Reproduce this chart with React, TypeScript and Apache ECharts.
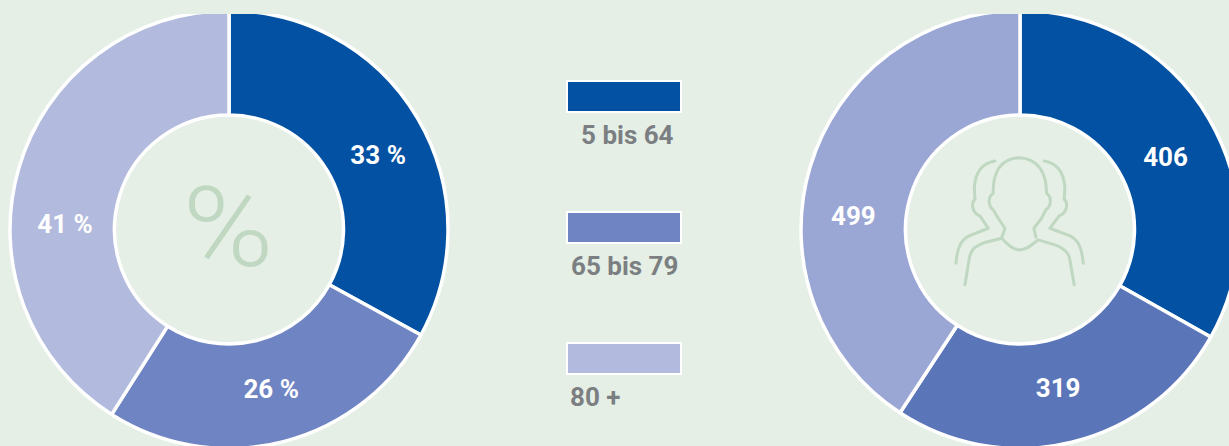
import React, { useEffect, useRef } from "react";
import * as echarts from "echarts";

const categories = ["5 bis 64", "65 bis 79", "80 +"];
const percentValues = [33, 26, 41];
const countValues = [406, 319, 499];
const leftColors = ["#0251a3", "#6f84c2", "#b2badd"];
const rightColors = ["#0251a3", "#5b75b9", "#9aa6d4"];
const leftOffsets = [[3, 12], [0, -5], [-1, 42]];
const rightOffsets = [[-1, 13], [-2, -6], [-4, 35]];
const legendTextX = [581, 571, 570];
const legendRectY = [81, 212, 343];

const FONT = "Roboto, sans-serif";
const BG = "#e5efe6";
const personPath =
  "M105 465 L118 385 C122 360 140 345 165 338 L215 325 L225 295 L205 265 L190 240 C175 228 172 202 190 190 C188 130 210 85 268 83 C325 85 350 130 350 190 C367 202 364 228 348 240 L335 265 L312 295 L318 322 M215 325 C235 345 250 360 268 360 C290 360 305 345 325 330 L375 345 C400 352 418 370 420 390 L433 465 " +
  "M195 93 C155 100 135 130 133 175 L135 208 C123 218 125 248 150 258 L175 295 L125 315 C95 325 82 350 78 400 " +
  "M343 93 C383 100 403 130 405 175 L403 208 C415 218 413 248 388 258 L360 295 L413 315 C443 325 456 350 460 400";
echarts.graphic.registerShape("personIcon", (echarts.graphic as any).extendPath(personPath, {}));

function donut(cx: number, values: number[], colors: string[], offsets: number[][], suffix: string) {
  return {
    type: "pie",
    center: [cx, 229.5],
    radius: [114.5, 219],
    startAngle: 90,
    clockwise: true,
    silent: true,
    itemStyle: { borderColor: "#ffffff", borderWidth: 3.5 },
    label: {
      show: true,
      position: "inside",
      color: "#ffffff",
      fontFamily: FONT,
      fontWeight: 700,
      fontSize: 26,
      formatter: (p: any) => p.value + suffix,
    },
    labelLine: { show: false },
    data: values.map((v, i) => ({
      name: categories[i],
      value: v,
      itemStyle: { color: colors[i] },
      label: { offset: offsets[i] },
    })),
  };
}

export default function App() {
  const ref = useRef<HTMLDivElement>(null);
  useEffect(() => {
    document.body.style.margin = "0";
    const chart = echarts.init(ref.current!, undefined, { renderer: "svg" });
    const legend: any[] = [];
    categories.forEach((c, i) => {
      legend.push({
        type: "rect",
        shape: { x: 567, y: legendRectY[i], width: 114, height: 31 },
        style: { fill: leftColors[i], stroke: "#ffffff", lineWidth: 2 },
      });
      legend.push({
        type: "text",
        x: legendTextX[i],
        y: legendRectY[i] + 41,
        style: { text: c, fill: "#7c7f82", font: `700 26px ${FONT}` },
      });
    });
    chart.setOption({
      animation: false,
      backgroundColor: BG,
      series: [
        donut(229, percentValues, leftColors, leftOffsets, " %"),
        donut(1020, countValues, rightColors, rightOffsets, ""),
      ],
      graphic: [
        ...legend,
        {
          type: "rect",
          z: 10,
          shape: { x: 0, y: 0, width: 1229, height: 14 },
          style: { fill: BG },
        },
        {
          type: "text",
          x: 228,
          y: 228,
          scaleX: 1.1,
          style: {
            text: "%",
            fill: "#c0d8c2",
            font: `300 112px ${FONT}`,
            textAlign: "center",
            textVerticalAlign: "middle",
          },
        },
        {
          type: "personIcon",
          x: 930,
          y: 130,
          scaleX: 1 / 3,
          scaleY: 1 / 3,
          style: { fill: "none", stroke: "#c0d8c2", lineWidth: 9, lineCap: "round", lineJoin: "round" },
        },
      ],
    });
    return () => chart.dispose();
  }, []);
  return <div ref={ref} style={{ width: 1229, height: 446 }} />;
}
